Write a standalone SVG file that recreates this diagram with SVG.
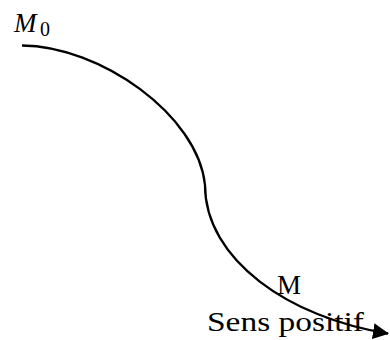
<svg xmlns="http://www.w3.org/2000/svg" width="390" height="340" viewBox="0 0 390 340">
<style>
.curve{fill:none;stroke:#000;stroke-width:2.3}
.lbl{font-family:"Liberation Serif","DejaVu Serif",serif;fill:#000}
</style>
<defs>
<marker id="arr" markerUnits="userSpaceOnUse" viewBox="0 0 16 16" markerWidth="16" markerHeight="16" refX="15" refY="8" orient="auto">
<path d="M0,0 L16,8 L0,16 z" fill="#000"/>
</marker>
</defs>
<rect width="390" height="340" fill="#fff"/>
<g id="connectors">
<path class="curve" d="M22,45.5 C100,46 198,115 205,185 C205,260 290,318 388,333.5" marker-end="url(#arr)"/>
</g>
<g id="M0">
<text class="lbl" x="14" y="31.7" font-size="27" font-style="italic">M</text>
<text class="lbl" x="40" y="36" font-size="20">0</text>
</g>
<g id="M">
<text class="lbl" x="277" y="293.5" font-size="27">M</text>
</g>
<g id="sens">
<text class="lbl" x="207" y="330.5" font-size="27" textLength="157" lengthAdjust="spacingAndGlyphs">Sens positif</text>
</g>
</svg>
